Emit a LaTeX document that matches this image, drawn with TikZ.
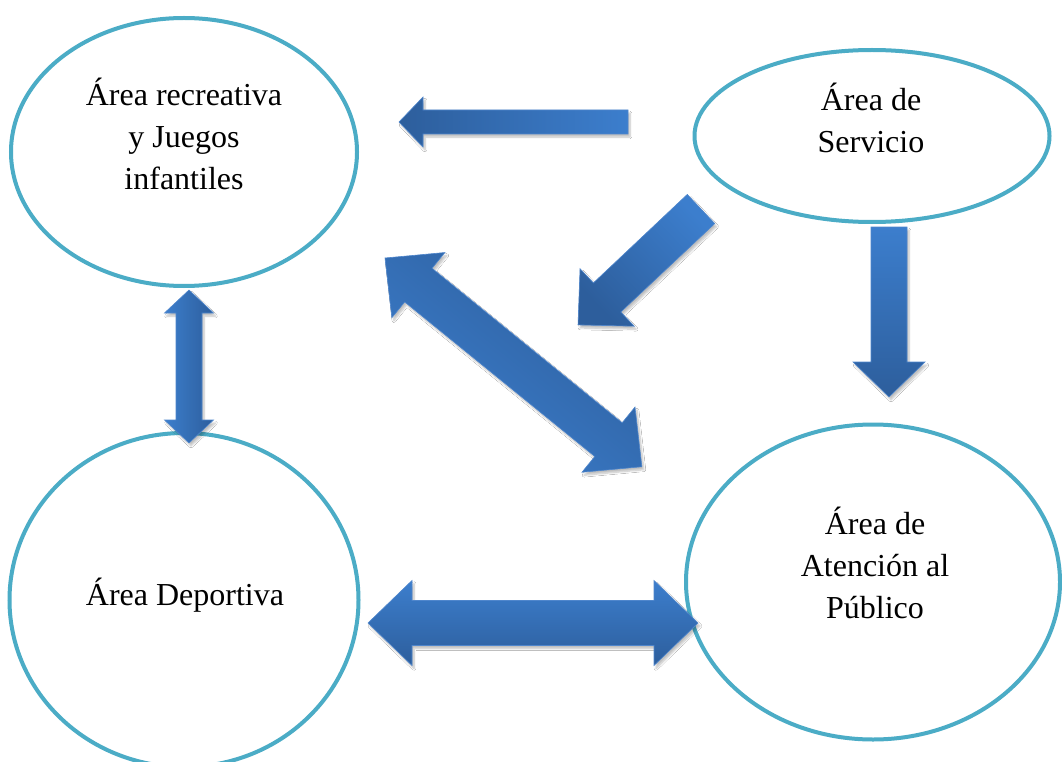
\documentclass[tikz,border=0pt]{standalone}
\usepackage{fontspec}
\setmainfont{Liberation Serif}
\usetikzlibrary{shapes.geometric,shadows.blur}
\definecolor{ringc}{HTML}{4BACC6}
\definecolor{adark}{HTML}{2D5E9C}
\definecolor{alight}{HTML}{3C7ECD}
\definecolor{aedge}{HTML}{4F86CC}
\tikzset{
  area/.style={ellipse, draw=ringc, line width=4pt, fill=white, inner sep=0pt},
  lbl/.style={align=center, font=\fontsize{32}{42}\selectfont, inner sep=0pt},
  blk/.style={draw=aedge, line width=0.6pt, left color=adark, right color=alight,
    blur shadow={shadow xshift=2pt, shadow yshift=-3pt, shadow blur steps=6, shadow opacity=25}},
}
% single block arrow: tail centre, angle, length, shaft half, head half, head length, shading angle
\newcommand{\sglarrow}[7]{%
  \begin{scope}[shift={(#1)}, rotate=#2]
    \path[blk, shading angle=#7] (0,-#4) -- ({#3-#6},-#4) -- ({#3-#6},-#5) -- (#3,0)
      -- ({#3-#6},#5) -- ({#3-#6},#4) -- (0,#4) -- cycle;
  \end{scope}}
% double block arrow: first tip, angle, length, shaft half, head half, head length, shading angle
\newcommand{\dblarrow}[7]{%
  \begin{scope}[shift={(#1)}, rotate=#2]
    \path[blk, shading angle=#7] (0,0) -- (#6,#5) -- (#6,#4) -- ({#3-#6},#4) -- ({#3-#6},#5)
      -- (#3,0) -- ({#3-#6},-#5) -- ({#3-#6},-#4) -- (#6,-#4) -- (#6,-#5) -- cycle;
  \end{scope}}
\begin{document}
\begin{tikzpicture}[x=1pt,y=-1pt]
\useasboundingbox (0,0) rectangle (1062,762);
\fill[white] (0,0) rectangle (1062,762);
% areas
\node[area, minimum width=346pt, minimum height=268pt] (rec) at (184,152) {};
\node[area, minimum width=355pt, minimum height=172pt] (serv) at (872,136) {};
\node[area, minimum width=349pt, minimum height=334pt] (dep) at (184,600) {};
\node[area, minimum width=374pt, minimum height=315pt] (aten) at (873,582) {};
\node[lbl] (trec) at (184,134) {Área recreativa\\y Juegos\\infantiles};
\node[lbl] (tserv) at (871,118) {Área de\\Servicio};
\node[lbl] (tdep) at (185,595) {Área Deportiva};
\node[lbl] (taten) at (875,563) {Área de\\Atención al\\Público};
% arrows
\sglarrow{628,122}{180}{229}{12}{25}{24}{90}
\sglarrow{701,209}{-136.7}{169}{20}{39.5}{40}{133.3}
\sglarrow{889,227}{-90}{170}{18}{36}{35}{180}
\dblarrow{368,623}{0}{330}{22.5}{42.5}{44}{180}
\dblarrow{385,258}{-39.1}{331}{21.7}{42}{43}{-39.1}
\dblarrow{189,290}{-90}{153}{13}{24.5}{23}{-90}
\end{tikzpicture}
\end{document}
